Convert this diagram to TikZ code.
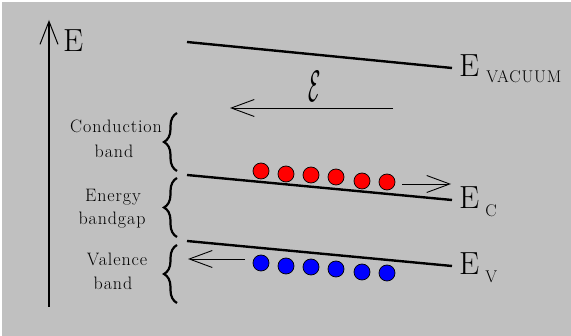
\documentclass[tikz,border=0pt]{standalone}
\usepackage{amsmath,amssymb}
\usepackage{fontspec}
\usepackage{tikz}
\usetikzlibrary{positioning,calc,arrows.meta,decorations.pathreplacing}

\definecolor{panelgray}{RGB}{192,192,192}
\newfontfamily\spacedfont[LetterSpace=5]{Latin Modern Roman}

\begin{document}
\begin{tikzpicture}[x=1pt,y=-1pt,
            level/.style={line width=2.4pt},
            barb/.style={line width=0.9pt,-{Straight Barb[length=23pt,width=17pt,line width=0.9pt]}},
            bandbrace/.style={line width=2.2pt,decorate,decoration={brace,amplitude=13pt}},
            bigtext/.style={inner sep=0pt,anchor=base west,font=\fontsize{32}{32}\selectfont},
            lbl/.style={inner sep=0pt,anchor=base,font=\spacedfont\fontsize{18}{20}\selectfont},
            electron/.style={circle,draw=black,line width=0.7pt,fill=red,minimum size=16pt,inner sep=0pt},
            hole/.style={electron,fill=blue}
        ]
            \fill[white] (0,0) rectangle (571,336);
            \fill[panelgray] (2,2) rectangle (571,336);
            \useasboundingbox (0,0) rectangle (571,336);
            % energy axis
            \coordinate (axbot) at (49,307);
            \coordinate (axtop) at (49,20);
            \draw[line width=1.8pt,-{Straight Barb[length=23pt,width=18pt,line width=1pt]}] (axbot) -- (axtop);
            \node[bigtext] (elab) at (63,52) {E};
            % levels
            \coordinate (vac1) at (187,42);
            \coordinate (vac2) at (452,68);
            \coordinate (ec1) at (187,175);
            \coordinate (ec2) at (452,200);
            \coordinate (ev1) at (187,241);
            \coordinate (ev2) at (452,266);
            \draw[level] (vac1) -- (vac2);
            \draw[level] (ec1) -- (ec2);
            \draw[level] (ev1) -- (ev2);
            \node[bigtext] (evac) at (459,77) {E\hspace{7pt}\raisebox{-6pt}{\spacedfont\fontsize{17}{17}\selectfont VACUUM}};
            \node[bigtext] (ecl) at (459,209) {E\hspace{6pt}\raisebox{-8pt}{\fontsize{17}{17}\selectfont C}};
            \node[bigtext] (evl) at (459,275) {E\hspace{6pt}\raisebox{-8pt}{\fontsize{17}{17}\selectfont V}};
            % field
            \coordinate (f1) at (393,108);
            \coordinate (f2) at (230,108);
            \draw[barb] (f1) -- (f2);
            \node[inner sep=0pt] (field) at (315,86) {\scalebox{2.0}[4.4]{$\mathcal{E}$}};
            % carriers
            \foreach \x/\y [count=\i] in {261/171,286/174,311/175,336/177,362/181,387/182}
                \node[electron] (n\i) at (\x,\y) {};
            \foreach \x/\y [count=\i] in {261/263,286/266,311/267,336/269,362/272,387/273}
                \node[hole] (p\i) at (\x,\y) {};
            \coordinate (ca) at (402,184);
            \coordinate (cb) at (451,184);
            \draw[barb] (ca) -- (cb);
            \coordinate (va) at (245,259);
            \coordinate (vb) at (188,259);
            \draw[barb] (va) -- (vb);
            % braces and band names
            \coordinate (b1) at (177,171);
            \coordinate (b2) at (177,113);
            \coordinate (b3) at (177,237);
            \coordinate (b4) at (177,178);
            \coordinate (b5) at (177,303);
            \coordinate (b6) at (177,245);
            \draw[bandbrace] (b1) -- (b2);
            \draw[bandbrace] (b3) -- (b4);
            \draw[bandbrace] (b5) -- (b6);
            \node[lbl] (cond) at (116,133) {Conduction};
            \node[lbl] (condb) at (114,158) {band};
            \node[lbl] (gap) at (113,202) {Energy};
            \node[lbl] (gapb) at (112,225) {bandgap};
            \node[lbl] (val) at (117,266) {Valence};
            \node[lbl] (valb) at (113,290) {band};
        \end{tikzpicture}
\end{document}
